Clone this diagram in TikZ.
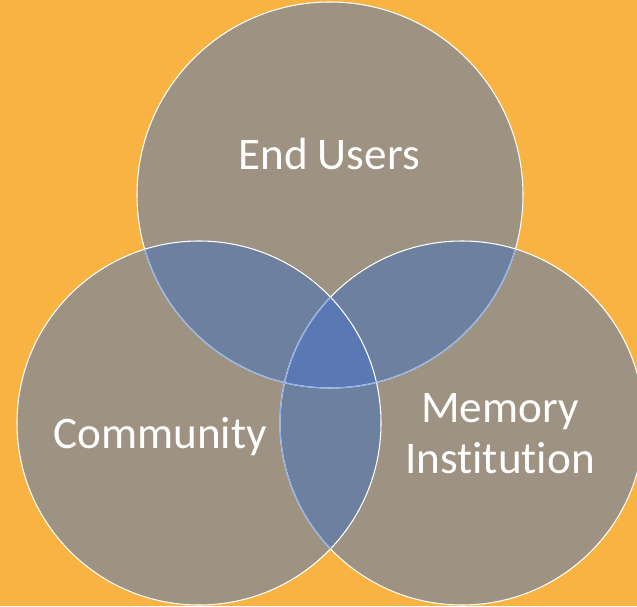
\documentclass[tikz,border=0pt]{standalone}
\usepackage{fontspec}
\setmainfont{Carlito}[Ligatures=NoCommon]
\definecolor{bgorange}{HTML}{F9B342}
\definecolor{venngrey}{HTML}{9E9382}
\definecolor{lensblue}{HTML}{6E80A0}
\definecolor{coreblue}{HTML}{5A78B4}
\definecolor{edgeblue}{HTML}{8DB0EA}
\tikzset{
  label/.style={text=white, font=\fontsize{25.7}{28.5}\selectfont, align=center, anchor=base},
  rim/.style={line width=0.6pt}
}

\begin{document}
\begin{tikzpicture}
    \useasboundingbox[fill=bgorange] (0,0) rectangle (12.74,12.12);
    \coordinate (users) at (6.6,8.22);
    \coordinate (comm) at (3.98,3.66);
    \coordinate (mem) at (9.24,3.66);
    \def\rtop{3.86}
    \def\rlow{3.64}
    % discs
    \fill[venngrey] (users) circle (\rtop) (comm) circle (\rlow) (mem) circle (\rlow);
    \begin{scope}
      \clip (users) circle (\rtop);
      \fill[lensblue] (comm) circle (\rlow) (mem) circle (\rlow);
    \end{scope}
    \begin{scope}
      \clip (comm) circle (\rlow);
      \fill[lensblue] (mem) circle (\rlow);
      \clip (mem) circle (\rlow);
      \fill[coreblue] (users) circle (\rtop);
    \end{scope}
    % rims
    \draw[rim, white] (users) circle (\rtop) (comm) circle (\rlow) (mem) circle (\rlow);
    \begin{scope}
      \clip (comm) circle (\rlow) (mem) circle (\rlow);
      \draw[rim, edgeblue] (users) circle (\rtop);
    \end{scope}
    \begin{scope}
      \clip (comm) circle (\rlow);
      \draw[rim, edgeblue] (mem) circle (\rlow);
    \end{scope}
    \node[label] (enduser) at (6.58,8.72) {End Users};
    \node[label] (community) at (3.2,3.16) {Community};
    \node[label] (memory) at (10.0,2.66) {Memory\\Institution};
  \end{tikzpicture}
\end{document}
